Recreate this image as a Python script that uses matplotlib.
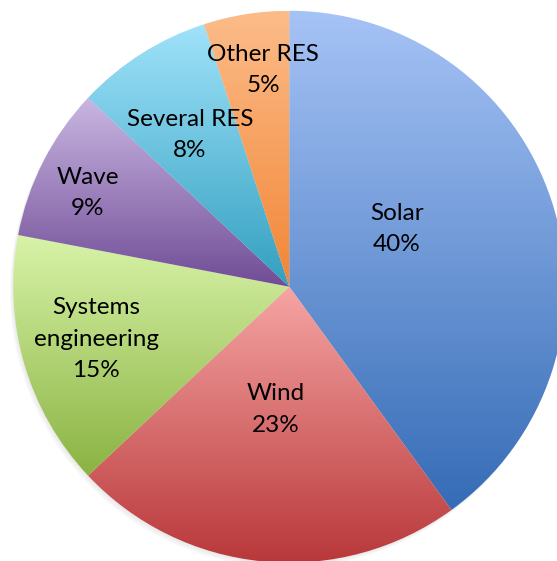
import matplotlib.pyplot as plt
import numpy as np
from matplotlib.colors import to_rgb
from matplotlib.patches import Circle

# Données
labels = ['Solar', 'Wind', 'Systems\nengineering', 'Wave', 'Several RES', 'Other RES']
values = [40, 23, 15, 9, 8, 5]

# Dégradés (haut -> bas) de chaque secteur
top_colors = ['#a6c3f6', '#f6a5a4', '#d8f3a8', '#c9b6e2', '#a0e2fa', '#fcbc8a']
bottom_colors = ['#356cb6', '#b9383a', '#8ab342', '#704c96', '#32a0c0', '#f28636']

# Position des étiquettes (unités du rayon)
label_pos = [(0.39, 0.21), (-0.05, -0.445), (-0.70, -0.19),
             (-0.73, 0.34), (-0.36, 0.55), (-0.095, 0.785)]


def gradient_fill(ax, wedge, c_top, c_bot):
    """Remplit un secteur avec un dégradé vertical"""
    bb = wedge.get_path().get_extents()
    n = 256
    t = np.linspace(0, 1, n)[:, None]
    a = np.array(to_rgb(c_top))
    b = np.array(to_rgb(c_bot))
    img = (a * (1 - t) + b * t)[:, None, :]
    im = ax.imshow(img, extent=(bb.x0, bb.x1, bb.y0, bb.y1), origin='upper',
                   interpolation='bilinear', zorder=2)
    im.set_clip_path(wedge)


fig = plt.figure(figsize=(5.57, 5.61), dpi=100)
ax = fig.add_axes([0, 0, 1, 1])

# Ombre légère
for k, al in enumerate([0.05, 0.05, 0.05]):
    ax.add_patch(Circle((-0.004 * (k + 1), -0.006 * (k + 1)), 1.0,
                        facecolor='#808080', alpha=al, edgecolor='none', zorder=0))

wedges, _ = ax.pie(values, startangle=90, counterclock=False, radius=1.0,
                   wedgeprops=dict(linewidth=0, edgecolor='none'))

for w, ct, cb in zip(wedges, top_colors, bottom_colors):
    w.set_facecolor('none')
    w.set_zorder(1)
    gradient_fill(ax, w, ct, cb)

for lab, v, (x, y) in zip(labels, values, label_pos):
    ax.text(x, y, f'{lab}\n{v}%', ha='center', va='center', fontsize=17.5,
            family='Lato', linespacing=1.6, color='black', zorder=5)

ax.set_xlim(-1.048, 0.970)
ax.set_ylim(-0.994, 1.039)
ax.set_aspect('auto')
ax.axis('off')

fig.savefig('out.png', dpi=100, facecolor='white')
